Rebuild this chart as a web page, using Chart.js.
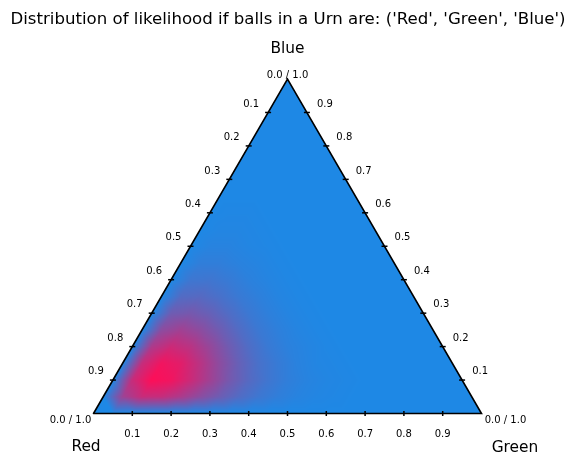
<!DOCTYPE html>
<html>
<head>
<meta charset="utf-8">
<script src="https://cdn.jsdelivr.net/npm/chart.js@4/dist/chart.umd.min.js"></script>
<style>html,body{margin:0;padding:0;background:#fff;}canvas{display:block;}</style>
</head>
<body>
<canvas id="c" width="576" height="466"></canvas>
<script>
// ---------------- data ----------------
const titleText = "Distribution of likelihood if balls in a Urn are: ('Red', 'Green', 'Blue')";
const categories = ['Red', 'Green', 'Blue'];           // corners: bottom-left, bottom-right, top
const tickValues = [0.1, 0.2, 0.3, 0.4, 0.5, 0.6, 0.7, 0.8, 0.9];
const tickLabels = ['0.1', '0.2', '0.3', '0.4', '0.5', '0.6', '0.7', '0.8', '0.9'];
const cornerLabel = '0.0 / 1.0';
const gridSteps = 20;   // grid spacing 0.05 in each proportion
// likelihood (% of maximum) on the ternary grid.
// row index = Blue step (0..20), entry index = Green step (0..20-row); Red = remainder.
const likelihood = [
  [0,0,0,0,0,0,0,0,0,0,0,0,0,0,0,0,0,0,0,0,0],
  [0,56,75,74,63,48,35,23,14,8,4,2,1,0,0,0,0,0,0,0],
  [0,75,99,94,77,58,39,25,15,8,4,2,1,0,0,0,0,0,0],
  [0,74,94,87,69,49,32,19,11,5,2,1,0,0,0,0,0,0],
  [0,63,77,69,53,36,22,12,6,3,1,0,0,0,0,0,0],
  [0,48,58,49,36,23,13,7,3,1,0,0,0,0,0,0],
  [0,35,39,32,22,13,7,3,1,0,0,0,0,0,0],
  [0,23,25,19,12,7,3,1,0,0,0,0,0,0],
  [0,14,15,11,6,3,1,0,0,0,0,0,0],
  [0,8,8,5,3,1,0,0,0,0,0,0],
  [0,4,4,2,1,0,0,0,0,0,0],
  [0,2,2,1,0,0,0,0,0,0],
  [0,1,1,0,0,0,0,0,0],
  [0,0,0,0,0,0,0,0],
  [0,0,0,0,0,0,0],
  [0,0,0,0,0,0],
  [0,0,0,0,0],
  [0,0,0,0],
  [0,0,0],
  [0,0],
  [0]
];
// corners of the simplex as (red, green, blue) proportions, closed loop
const outlineCorners = [[1,0,0],[0,1,0],[0,0,1],[1,0,0]];

// ---------------- styling ----------------
const lowColor = [30, 136, 229];   // #1E88E5
const highColor = [255, 13, 87];   // #FF0D57
const FONT = '"DejaVu Sans", sans-serif';
const H = Math.sqrt(3) / 2;
// pixel frame of the triangle: left 93.5, right 481.5 on a 576 wide canvas
const SIDE = 388;
const X_MIN = -93.5 / SIDE, X_MAX = 1 + 94.5 / SIDE;

// ternary (r,g,b) -> cartesian data coordinates
function project(r, g, b) { return { x: g + b / 2, y: b * H }; }

function gridVal(j, l) {
  if (l < 0 || l >= likelihood.length) return 0;
  const row = likelihood[l];
  if (j < 0 || j >= row.length) return 0;
  return row[j];
}
function sample(g, b) {
  const u = g * gridSteps, v = b * gridSteps;
  let j0 = Math.floor(u), l0 = Math.floor(v);
  if (j0 >= gridSteps) j0 = gridSteps - 1;
  if (l0 >= gridSteps) l0 = gridSteps - 1;
  const fu = u - j0, fv = v - l0;
  if (fu + fv <= 1) {
    return gridVal(j0, l0) * (1 - fu - fv) + gridVal(j0 + 1, l0) * fu + gridVal(j0, l0 + 1) * fv;
  }
  return gridVal(j0 + 1, l0 + 1) * (fu + fv - 1) + gridVal(j0 + 1, l0) * (1 - fv) + gridVal(j0, l0 + 1) * (1 - fu);
}

const heatPlugin = {
  id: 'ternaryHeat',
  beforeDatasetsDraw(chart) {
    const { ctx, scales } = chart;
    const xs = scales.x, ys = scales.y;
    const left = xs.getPixelForValue(0), right = xs.getPixelForValue(1);
    const top = ys.getPixelForValue(H), bottom = ys.getPixelForValue(0);
    const x0 = Math.floor(left) - 1, x1 = Math.ceil(right) + 1;
    const y0 = Math.floor(top) - 1, y1 = Math.ceil(bottom) + 1;
    const w = x1 - x0, h = y1 - y0;
    const off = document.createElement('canvas');
    off.width = w; off.height = h;
    const octx = off.getContext('2d');
    const img = octx.createImageData(w, h);
    const d = img.data;
    for (let py = 0; py < h; py++) {
      const b = ys.getValueForPixel(y0 + py + 0.5) / H;
      for (let px = 0; px < w; px++) {
        const xv = xs.getValueForPixel(x0 + px + 0.5);
        const g = xv - b / 2;
        const r = 1 - g - b;
        if (b < -0.001 || g < -0.001 || r < -0.001) continue;
        let t = sample(Math.max(g, 0), Math.max(b, 0)) / 100;
        t = Math.min(1, Math.max(0, t));
        const k = (py * w + px) * 4;
        d[k] = lowColor[0] + (highColor[0] - lowColor[0]) * t;
        d[k + 1] = lowColor[1] + (highColor[1] - lowColor[1]) * t;
        d[k + 2] = lowColor[2] + (highColor[2] - lowColor[2]) * t;
        d[k + 3] = 255;
      }
    }
    octx.putImageData(img, 0, 0);
    ctx.save();
    ctx.drawImage(off, x0, y0);
    ctx.restore();
  }
};

const annotPlugin = {
  id: 'ternaryAxes',
  afterDatasetsDraw(chart) {
    const { ctx, scales } = chart;
    const px = (p) => ({ x: scales.x.getPixelForValue(p.x), y: scales.y.getPixelForValue(p.y) });
    ctx.save();
    ctx.strokeStyle = '#000';
    ctx.fillStyle = '#000';
    ctx.lineWidth = 1.5;
    const tickFont = 10;
    ctx.font = tickFont + 'px ' + FONT;
    ctx.textAlign = 'center';
    ctx.textBaseline = 'alphabetic';
    const base = (cy, size) => cy + 0.365 * size;
    tickValues.forEach((v, i) => {
      // bottom axis: Green proportion
      let p = px(project(1 - v, v, 0));
      ctx.beginPath(); ctx.moveTo(p.x, p.y - 2.5); ctx.lineTo(p.x, p.y + 2.5); ctx.stroke();
      ctx.fillText(tickLabels[i], p.x, base(p.y + 20, tickFont));
      // left axis: Red proportion
      p = px(project(v, 0, 1 - v));
      ctx.beginPath(); ctx.moveTo(p.x - 3, p.y); ctx.lineTo(p.x + 3, p.y); ctx.stroke();
      ctx.fillText(tickLabels[i], p.x - 17, base(p.y - 9.5, tickFont));
      // right axis: Blue proportion
      p = px(project(0, 1 - v, v));
      ctx.beginPath(); ctx.moveTo(p.x - 3, p.y); ctx.lineTo(p.x + 3, p.y); ctx.stroke();
      ctx.fillText(tickLabels[i], p.x + 18, base(p.y - 9.5, tickFont));
    });
    // corner labels
    const cl = px(project(1, 0, 0)), cr = px(project(0, 1, 0)), ct = px(project(0, 0, 1));
    ctx.fillText(cornerLabel, cl.x - 23, base(cl.y + 5.5, tickFont));
    ctx.fillText(cornerLabel, cr.x + 24, base(cr.y + 6, tickFont));
    ctx.fillText(cornerLabel, ct.x, base(ct.y - 5, tickFont));
    // corner titles
    const lf = 15.4;
    ctx.font = lf + 'px ' + FONT;
    ctx.fillText(categories[0], cl.x - 7.5, base(cl.y + 31.5, lf));
    ctx.fillText(categories[1], cr.x + 33.5, base(cr.y + 32.5, lf));
    ctx.fillText(categories[2], ct.x, base(ct.y - 32, lf));
    ctx.restore();
  }
};

const outline = outlineCorners.map(c => project(c[0], c[1], c[2]));

new Chart(document.getElementById('c'), {
  type: 'scatter',
  data: {
    datasets: [{
      data: outline,
      showLine: true,
      borderColor: '#000',
      borderWidth: 1.6,
      pointRadius: 0,
      fill: false,
      tension: 0,
      clip: false,
      borderJoinStyle: 'miter',
      borderCapStyle: 'round'
    }]
  },
  options: {
    responsive: false,
    animation: false,
    events: [],
    layout: { padding: { left: 0, right: 0, top: 0, bottom: 52.5 } },
    scales: {
      x: { type: 'linear', display: false, min: X_MIN, max: X_MAX },
      y: { type: 'linear', display: false, min: 0, max: H }
    },
    plugins: {
      legend: { display: false },
      tooltip: { enabled: false },
      title: {
        display: true,
        text: titleText,
        color: '#000',
        font: { size: 16.6, weight: 'normal', family: FONT, lineHeight: 1.2 },
        padding: { top: 9.5, bottom: 49.6 }
      }
    }
  },
  plugins: [heatPlugin, annotPlugin]
});
</script>
</body>
</html>
